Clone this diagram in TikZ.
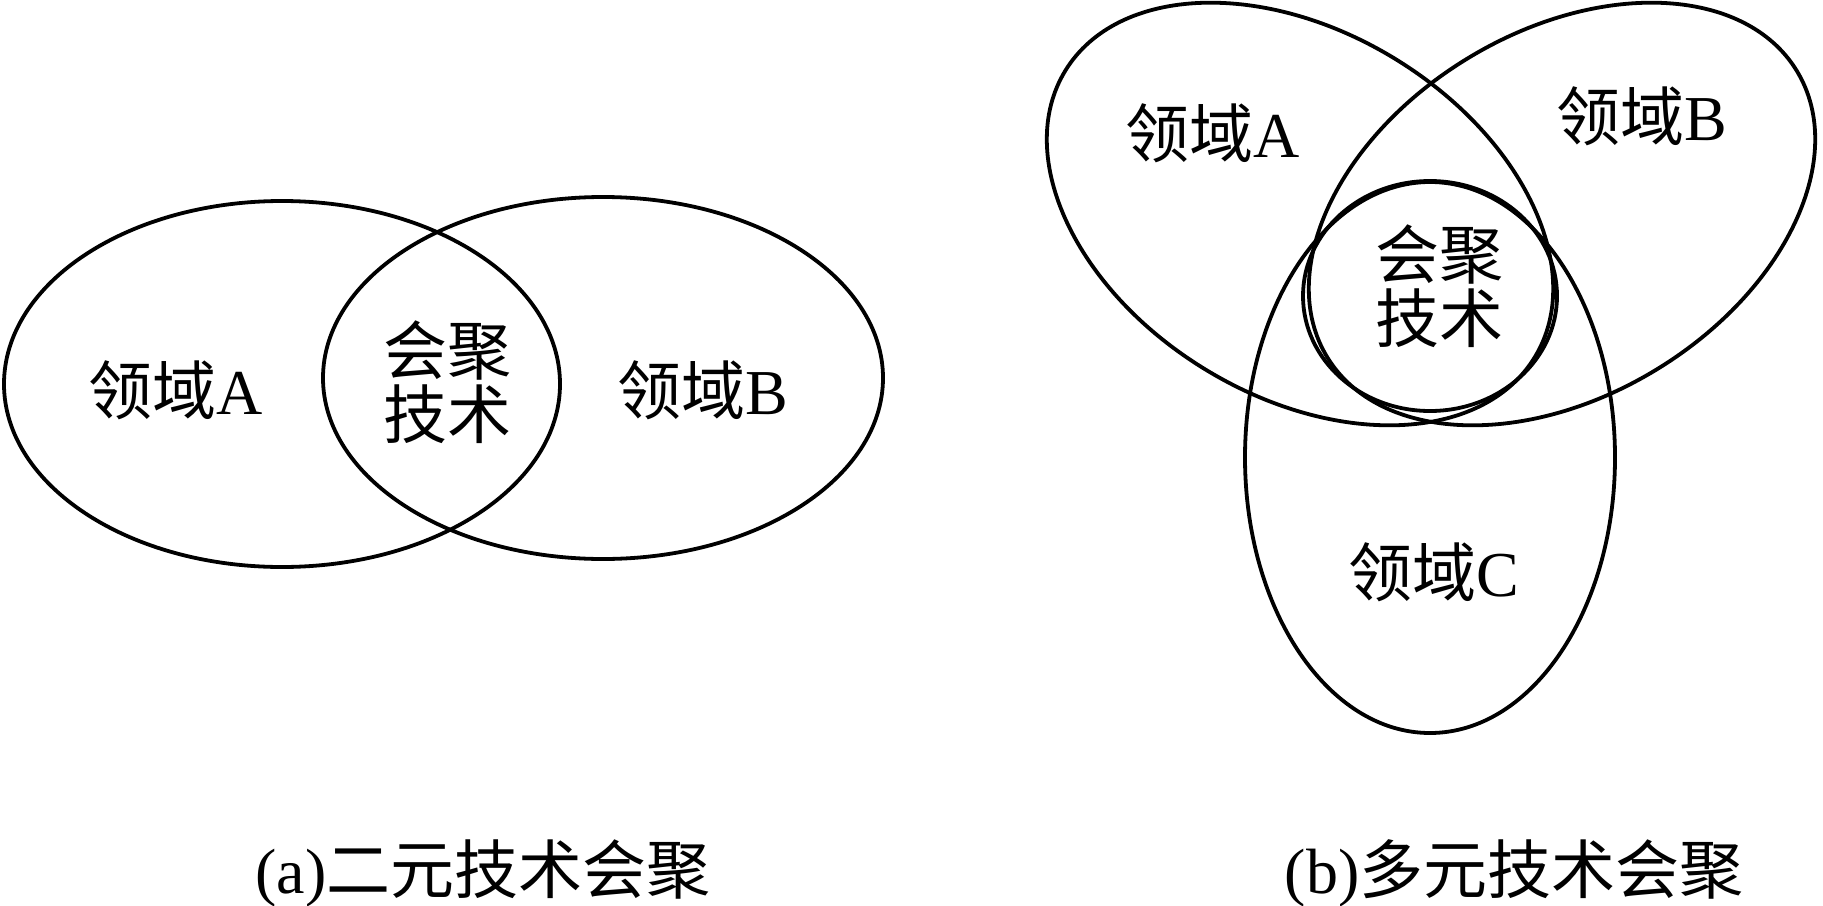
\documentclass[tikz,border=0pt]{standalone}
\usepackage{fontspec}
\setmainfont{Liberation Serif}
\newfontfamily\cjk{Noto Sans CJK SC}
\usepackage{tikz}

\begin{document}
\begin{tikzpicture}[x=1pt, y=1pt,
    venn/.style={line width=3.8pt},
    tag/.style={inner sep=0pt, align=center, font=\cjk\fontsize{64}{64}\selectfont}]
    \useasboundingbox (0,-905) rectangle (1823,0);
    % (a) two domains
    \coordinate (LA) at (282,-384);
    \coordinate (LB) at (603,-378);
    \draw[venn] (LA) ellipse [x radius=278, y radius=183];
    \draw[venn] (LB) ellipse [x radius=280, y radius=181];
    \node[tag] (labLA) at (176,-390) {领域{\rmfamily A}};
    \node[tag] (labLB) at (703,-390) {领域{\rmfamily B}};
    \node[tag] (coreL) at (447,-382) {会聚\\技术};
    \node[tag] (capA) at (483,-873) {{\rmfamily (a)}二元技术会聚};
    % (b) three domains
    \coordinate (RA) at (1300,-214);
    \coordinate (RB) at (1562,-214);
    \coordinate (RC) at (1430,-457.5);
    \coordinate (RO) at (1430,-296);
    \draw[venn] (RA) ellipse [x radius=275, y radius=182, rotate=-31.4];
    \draw[venn] (RB) ellipse [x radius=275, y radius=182, rotate=31.4];
    \draw[venn] (RC) ellipse [x radius=185, y radius=275.5];
    \draw[venn] (RO) ellipse [x radius=127, y radius=115];
    \node[tag] (labRA) at (1213,-133) {领域{\rmfamily A}};
    \node[tag] (labRB) at (1642,-116) {领域{\rmfamily B}};
    \node[tag] (labRC) at (1434,-572) {领域{\rmfamily C}};
    \node[tag] (coreR) at (1439,-286) {会聚\\技术};
    \node[tag] (capB) at (1514,-873) {{\rmfamily (b)}多元技术会聚};
\end{tikzpicture}
\end{document}
